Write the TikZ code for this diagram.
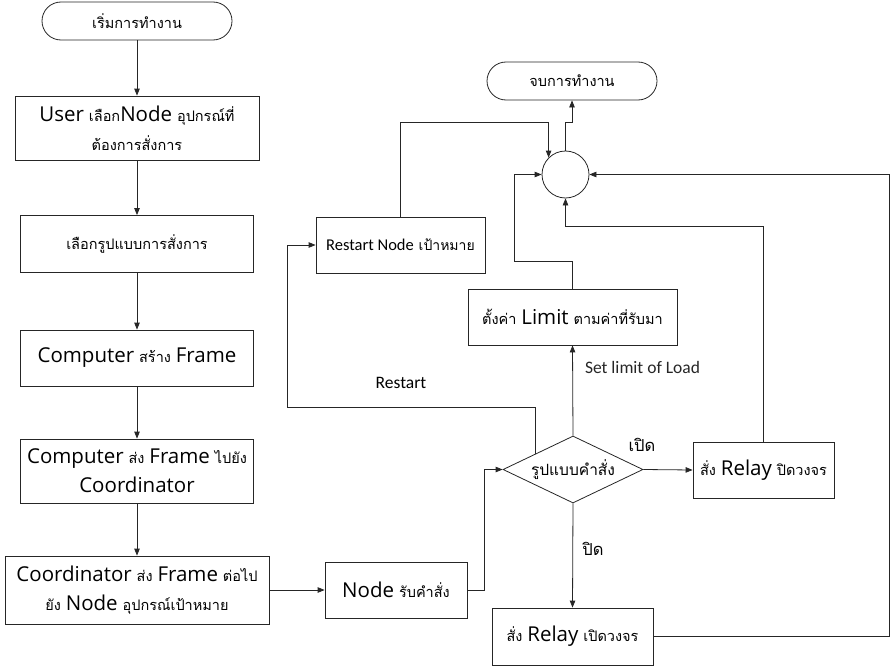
\documentclass[tikz,border=0pt]{standalone}
\usepackage{fontspec}
\usepackage{tikz}
\usetikzlibrary{arrows.meta,positioning,calc,shapes.geometric}
\setmainfont{Carlito}
\newfontfamily\bigfont{Open Sans}
\newfontfamily\thaifont[Script=Thai]{Loma}
\newcommand\en[1]{{\bigfont\fontsize{20.5}{29}\selectfont #1}}
\newcommand\tha[1]{{\thaifont #1}}

\begin{document}
\begin{tikzpicture}[x=1pt,y=-1pt,>={Triangle[length=7pt,width=5.5pt]},
    font=\thaifont\fontsize{14.5}{29}\selectfont]
  \tikzset{
    term/.style={draw=black!85,line width=.8pt,rounded corners=19pt,minimum width=190pt,
      minimum height=38pt,inner sep=0pt,align=center},
    proc/.style={draw=black!85,line width=.8pt,inner sep=0pt,align=center},
    choice/.style={draw=black!85,line width=.8pt,diamond,aspect=2.1,inner sep=0pt,
      minimum width=140pt,minimum height=67pt,font=\thaifont\fontsize{15.5}{20}\selectfont},
    joint/.style={draw=black!85,line width=.8pt,circle,minimum size=47pt,inner sep=0pt},
    flow/.style={->,black!85,line width=.8pt},
    lbl/.style={font=\fontsize{17.5}{20}\selectfont,inner sep=0pt},
    thlbl/.style={font=\thaifont\fontsize{16.5}{20}\selectfont,inner sep=0pt}
  }
  \useasboundingbox (0,0) rectangle (891,669);

  % main column
  \node[term] (start) at (137,21) {เริ่มการทำงาน};
  \node[proc,minimum width=244pt,minimum height=64pt] (user) at (137,128)
    {\en{User} เลือก\en{Node} อุปกรณ์ที่\\ต้องการสั่งการ};
  \node[proc,minimum width=233pt,minimum height=57pt] (mode) at (137,244) {เลือกรูปแบบการสั่งการ};
  \node[proc,minimum width=233pt,minimum height=56pt] (make) at (137,358)
    {\en{Computer} สร้าง \en{Frame}};
  \node[proc,minimum width=233pt,minimum height=64pt] (send) at (137,471)
    {\en{Computer} ส่ง \en{Frame} ไปยัง\\\en{Coordinator}};
  \node[proc,minimum width=264pt,minimum height=68pt] (fwd) at (137,590)
    {\en{Coordinator} ส่ง \en{Frame} ต่อไป\\ยัง \en{Node} อุปกรณ์เป้าหมาย};
  \draw[flow] (start) -- (user);
  \draw[flow] (user) -- (mode);
  \draw[flow] (mode) -- (make);
  \draw[flow] (make) -- (send);
  \draw[flow] (send) -- (fwd);

  % node side
  \node[proc,minimum width=142pt,minimum height=56pt] (recv) at (396,590)
    {\en{Node} รับคำสั่ง};
  \node[choice] (cmd) at (573,469.5) {รูปแบบคำสั่ง};
  \node[proc,minimum width=209pt,minimum height=56pt] (limit) at (572.5,317)
    {ตั้งค่า \en{Limit} ตามค่าที่รับมา};
  \node[proc,minimum width=141pt,minimum height=56pt] (on) at (763.5,470)
    {สั่ง \en{Relay} ปิดวงจร};
  \node[proc,minimum width=161pt,minimum height=57pt] (off) at (572.5,636.5)
    {สั่ง \en{Relay} เปิดวงจร};
  \node[proc,minimum width=169pt,minimum height=56pt] (rst) at (400.5,245)
    {{\fontsize{16.5}{20}\rmfamily Restart Node} {\fontsize{14}{20}\selectfont เป้าหมาย}};
  \node[joint] (join) at (565.5,174.5) {};
  \node[term,minimum width=170pt] (stop) at (572,81) {จบการทำงาน};

  \draw[flow] (fwd) -- (recv);
  \draw[flow] (recv.east) -- ++(17,0) |- (cmd.west);
  \draw[flow] (cmd.north) -- (limit.south)
    node[lbl,anchor=west,pos=.76,xshift=12pt] (lim) {Set limit of Load};
  \draw[flow] (cmd.east) -- (on.west);
  \node[thlbl] (open) at (642,445) {เปิด};
  \draw[flow] (cmd.south) -- (off.north);
  \node[thlbl] (close) at (593,549) {ปิด};

  \coordinate (rbk) at (287,407);
  \draw[flow] ($(cmd.west)!.47!(cmd.north)$) |- (rbk) |- (rst.west);
  \node[lbl] (rlab) at (401,383) {Restart};

  % back to the joint
  \coordinate (lbk) at (514,261);
  \coordinate (obk) at (889,636.5);
  \draw[flow] (rst.north) |- ($(join.north west)+(0,-35)$) -- (join.north west);
  \draw[flow] (limit.north) |- (lbk) |- (join.west);
  \draw[flow] (on.north) |- ($(join.south)+(0,28)$) -- (join.south);
  \draw[flow] (off.east) -- (obk) |- (join.east);
  \draw[flow] (join.north) -- ++(0,-28) -| (stop.south);
\end{tikzpicture}
\end{document}
